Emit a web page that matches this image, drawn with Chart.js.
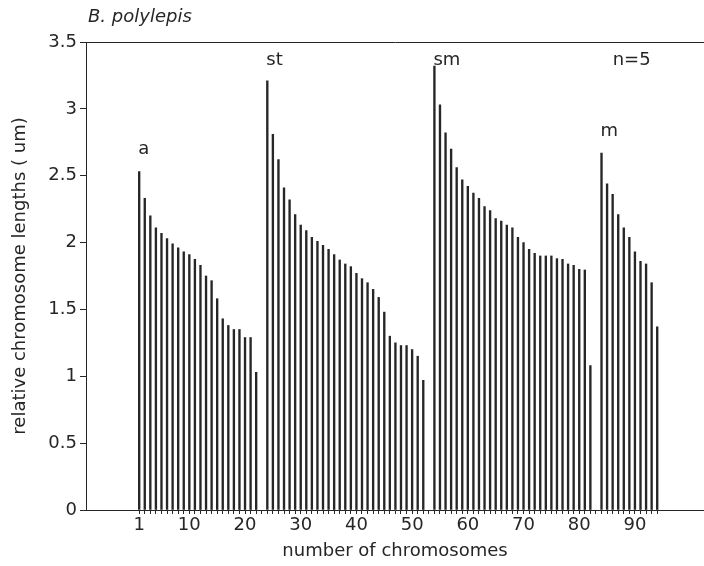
<!DOCTYPE html>
<html>
<head>
<meta charset="utf-8">
<script src="https://cdn.jsdelivr.net/npm/chart.js@4"></script>
<style>
  html, body { margin: 0; padding: 0; background: #fff; }
  #wrap { width: 704px; height: 566px; }
</style>
</head>
<body>
<div id="wrap"><canvas id="myChart" width="704" height="566"></canvas></div>
<script>
// relative chromosome lengths (um), one array per chromosome type
const groupNames = ['a', 'st', 'sm', 'm'];
const groupStart = [1, 24, 54, 84]; // chromosome number of the first bar in each group

const lengthsA = [2.53, 2.33, 2.20, 2.11, 2.07, 2.03, 1.99, 1.96, 1.93, 1.91, 1.875,
                  1.83, 1.75, 1.715, 1.58, 1.43, 1.38, 1.35, 1.35, 1.29, 1.29, 1.03];
const lengthsSt = [3.21, 2.81, 2.62, 2.41, 2.32, 2.21, 2.13, 2.09, 2.04, 2.01, 1.98,
                   1.95, 1.91, 1.87, 1.84, 1.82, 1.77, 1.73, 1.70, 1.65, 1.59, 1.48,
                   1.30, 1.25, 1.23, 1.23, 1.20, 1.15, 0.97];
const lengthsSm = [3.32, 3.03, 2.82, 2.70, 2.56, 2.47, 2.42, 2.37, 2.33, 2.27, 2.24,
                   2.18, 2.16, 2.13, 2.11, 2.04, 2.00, 1.95, 1.92, 1.90, 1.90, 1.90,
                   1.88, 1.875, 1.84, 1.83, 1.80, 1.795, 1.08];
const lengthsM = [2.67, 2.44, 2.36, 2.21, 2.11, 2.04, 1.93, 1.86, 1.84, 1.70, 1.37];

const xTickLabels = [1, 10, 20, 30, 40, 50, 60, 70, 80, 90];
const lastTick = 94;

const ink = '#262626';
const font = { family: 'DejaVu Sans', size: 18 };

const groupValues = [lengthsA, lengthsSt, lengthsSm, lengthsM];

function toPoints(values, start) {
    return values.map((v, i) => ({ x: start + i, y: v }));
}

const datasets = groupValues.map((vals, i) => ({
    label: groupNames[i],
    data: toPoints(vals, groupStart[i]),
    backgroundColor: ink,
    borderWidth: 0,
    barThickness: 1.7,
    grouped: false
}));

// title and group letters drawn on top of the chart
const labelsPlugin = {
    id: 'labels',
    afterDraw(chart) {
        const ctx = chart.ctx;
        const xs = chart.scales.x, ys = chart.scales.y;
        ctx.save();
        ctx.fillStyle = ink;
        ctx.textBaseline = 'middle';
        ctx.textAlign = 'left';
        ctx.font = 'italic 18px "DejaVu Sans"';
        ctx.fillText('B. polylepis', chart.chartArea.left + 2, 17);

        ctx.font = '18px "DejaVu Sans"';
        const levels = [2.70, 3.36, 3.36, 2.83]; // where each letter sits, in axis units
        groupNames.forEach((name, i) => {
            ctx.fillText(name, xs.getPixelForValue(groupStart[i]) - 1, ys.getPixelForValue(levels[i]));
        });
        ctx.fillText('n=5', xs.getPixelForValue(86), ys.getPixelForValue(3.36));
        ctx.restore();
    }
};

const chart = new Chart(document.getElementById('myChart').getContext('2d'), {
    type: 'bar',
    data: { datasets: datasets },
    options: {
        responsive: false,
        animation: false,
        layout: { padding: { top: 42, right: 0, bottom: 0, left: 0 } },
        plugins: {
            legend: { display: false },
            tooltip: { enabled: false }
        },
        scales: {
            x: {
                type: 'linear',
                min: -8.55,
                max: 102.4,
                offset: false,
                grid: { offset: false, drawOnChartArea: false, tickLength: 4, tickColor: ink },
                border: { color: ink, width: 1 },
                ticks: {
                    autoSkip: false,
                    maxRotation: 0,
                    padding: 1,
                    color: ink,
                    font: font,
                    callback: v => xTickLabels.includes(v) ? String(v) : ''
                },
                afterBuildTicks: s => {
                    s.ticks = [];
                    for (let n = 1; n <= lastTick; n++) s.ticks.push({ value: n });
                },
                afterFit: s => { s.height = 56; },
                title: {
                    display: true,
                    text: 'number of chromosomes',
                    color: ink,
                    font: font,
                    padding: { top: 0, bottom: 4 }
                }
            },
            y: {
                min: 0,
                max: 3.5,
                ticks: { stepSize: 0.5, color: ink, font: font, padding: 3, callback: v => String(v) },
                grid: {
                    color: c => (c.tick && c.tick.value === 3.5) ? ink : 'rgba(0,0,0,0)',
                    tickColor: ink,
                    tickLength: 6
                },
                border: { color: ink, width: 1 },
                afterFit: s => { s.width = 86; },
                title: {
                    display: true,
                    text: 'relative chromosome lengths ( um)',
                    color: ink,
                    font: font,
                    padding: { top: 10, bottom: 0 }
                }
            }
        }
    },
    plugins: [labelsPlugin]
});
</script>
</body>
</html>
